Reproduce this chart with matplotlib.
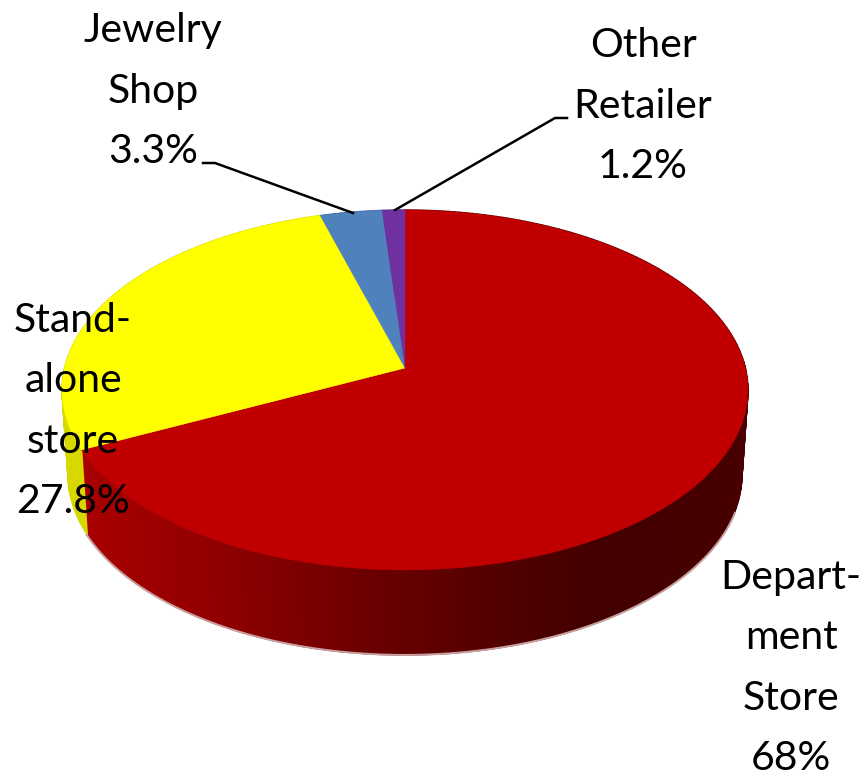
import numpy as np
import matplotlib
matplotlib.use('Agg')
import matplotlib.pyplot as plt
from matplotlib.colors import LinearSegmentedColormap

plt.rcParams['font.family'] = ['Lato', 'DejaVu Sans']

#store types, clockwise from 12 o'clock
labels = ['Depart-\nment\nStore\n68%', 'Stand-\nalone\nstore\n27.8%',
          'Jewelry\nShop\n3.3%', 'Other\nRetailer\n1.2%']
shares = [68, 27.8, 3.3, 1.2]
colors = ['#C00000', '#FFFF00', '#4F81BD', '#7030A0']
side_colors = ['#8B0000', '#D8D800', '#3A6090', '#502080']

#shading of the red wall, left to right across the front
red_wall = LinearSegmentedColormap.from_list(
    'red_wall', [(0, '#A80000'), (0.2, '#900000'), (0.45, '#680000'),
                 (0.62, '#520000'), (0.78, '#420000'), (1, '#480000')]
)


def project(theta, width=340.4, drop=0):
    """
    Tilted disc: theta runs clockwise from the top, result is in pixels.
    """
    u, v = np.sin(theta), np.cos(theta)
    w = 1 + 0.122 * v
    return 405 + width * u / w, 368 - 177.3 * v / w + drop


fig = plt.figure(figsize=(8.6, 7.75), dpi=100)
ax = fig.add_axes([0, 0, 1, 1])
ax.set_xlim(0, 860)
ax.set_ylim(775, 0)
ax.axis('off')

edges = np.cumsum([0] + shares) / sum(shares) * 2 * np.pi

#walls first, the top surface covers whatever is behind it
for i in range(len(shares)):
    steps = np.linspace(edges[i], edges[i + 1], max(2, int((edges[i + 1] - edges[i]) / 0.02)))
    for a, b in zip(steps[:-1], steps[1:]):
        x0, y0 = project(a)
        x1, y1 = project(b)
        x2, y2 = project(b, 334.4, 85)
        x3, y3 = project(a, 334.4, 85)
        c = side_colors[i]
        if i == 0:
            c = red_wall((x2 - 85) / (745 - 85))
        ax.fill([x0, x1, x2, x3], [y0, y1, y2, y3], color=c, lw=1.0)

#soft rim along the bottom of the wall
t = np.linspace(1.9, edges[1], 200)
ax.plot(*project(t, 335, 85), color='#C8A0A0', lw=1.4, zorder=1.5)

for i in range(len(shares)):
    t = np.linspace(edges[i], edges[i + 1], 200)
    x, y = project(t)
    ax.fill(np.r_[405, x], np.r_[368, y], color=colors[i], lw=0.3, zorder=2)

#labels
label_pos = [(791, 668), (73, 411), (153, 91), (643, 106)]
for text, pos in zip(labels, label_pos):
    ax.text(pos[0], pos[1], text, ha='center', va='center', fontsize=29.5, linespacing=1.77,
            color='black', zorder=4)

#leader lines for the two thin slices
ax.plot([203, 215, 353], [163, 163, 213], color='black', lw=1.8, zorder=3)
ax.plot([395, 555, 567], [210, 118, 118], color='black', lw=1.8, zorder=3)

fig.savefig('out.png', dpi=100)
